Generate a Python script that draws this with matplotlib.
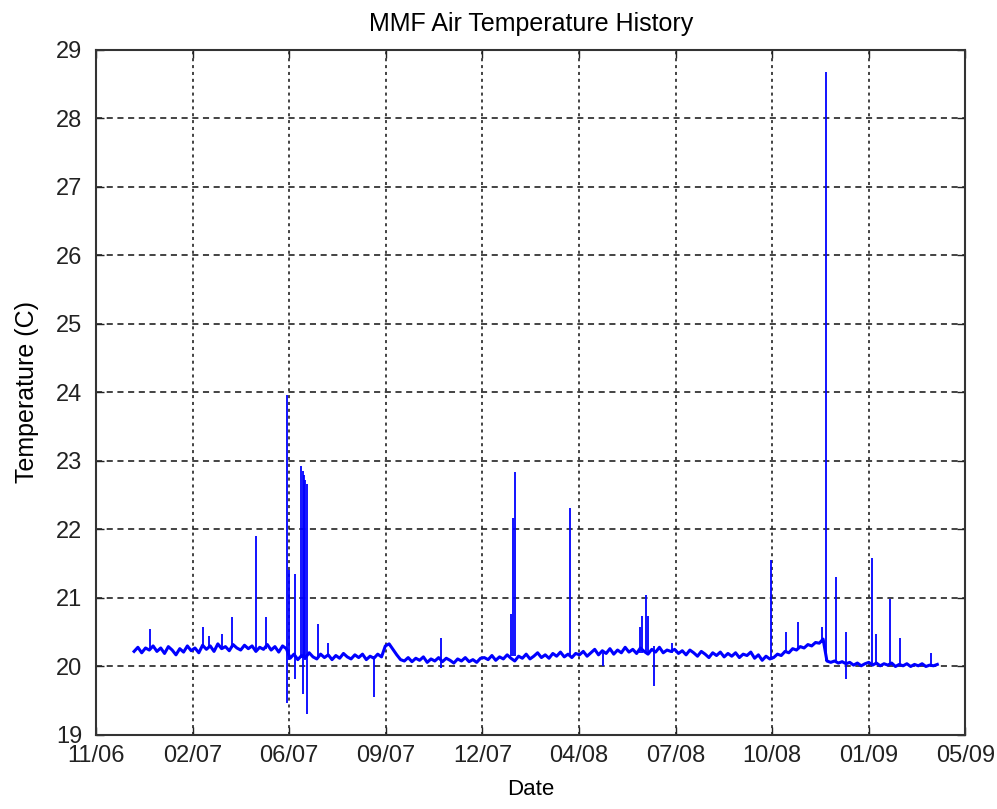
import matplotlib.pyplot as plt
import numpy as np

plt.rcParams['font.family'] = ['Liberation Sans', 'DejaVu Sans']

# x axis: days since first tick (11/06), ticks evenly spaced as in MATLAB datetick
tick_step = 101.5
tick_labels = ['11/06', '02/07', '06/07', '09/07', '12/07',
               '04/08', '07/08', '10/08', '01/09', '05/09']

# baseline readings, one every 4 days starting at day 40
base_start = 40
base_step = 4
base_temp = [
    20.22, 20.28, 20.2, 20.27, 20.24,
    20.3, 20.22, 20.27, 20.19, 20.29, 20.24, 20.17, 20.26, 20.21, 20.3, 20.23, 20.27, 20.2,
    20.31, 20.25, 20.3, 20.22, 20.33, 20.26, 20.29, 20.23, 20.32, 20.27, 20.24, 20.31,
    20.26, 20.3, 20.22, 20.28, 20.25, 20.32, 20.24, 20.29, 20.21, 20.3, 20.26,
    20.12, 20.18, 20.1, 20.16, 20.13, 20.2, 20.14, 20.11, 20.18, 20.13, 20.17, 20.1,
    20.16, 20.12, 20.19, 20.14, 20.11, 20.17, 20.13, 20.18, 20.1, 20.15, 20.12, 20.18, 20.14,
    20.3, 20.33, 20.25, 20.17, 20.1,
    20.08, 20.13, 20.07, 20.12, 20.09, 20.14, 20.06, 20.11, 20.08, 20.13, 20.07,
    20.12, 20.09, 20.05, 20.11, 20.08, 20.13, 20.07, 20.1, 20.06, 20.12,
    20.13, 20.1, 20.16, 20.09, 20.14, 20.11, 20.17, 20.12, 20.08, 20.15, 20.12, 20.18, 20.11,
    20.15, 20.2, 20.13, 20.17, 20.12, 20.19, 20.15, 20.21, 20.14, 20.18, 20.13, 20.19,
    20.17, 20.22, 20.15, 20.2, 20.25, 20.17, 20.23, 20.19, 20.26, 20.18, 20.24, 20.2, 20.28,
    20.21, 20.25, 20.19, 20.27, 20.22, 20.18, 20.25, 20.21, 20.28, 20.2, 20.24, 20.22,
    20.25, 20.19, 20.23, 20.17, 20.24, 20.2, 20.15, 20.22, 20.18, 20.13, 20.2, 20.16, 20.21,
    20.14, 20.19, 20.15, 20.2, 20.13, 20.18, 20.16, 20.21, 20.12, 20.17, 20.09, 20.15, 20.11,
    20.13, 20.18, 20.16, 20.22, 20.2, 20.26, 20.24, 20.29, 20.27, 20.32, 20.3, 20.35, 20.34, 20.4,
    20.08, 20.06, 20.08, 20.05, 20.07, 20.04, 20.06, 20.02, 20.05, 20.01, 20.04, 20.06,
    20.02, 20.05, 20.01, 20.04, 20.02, 20.05, 20.0, 20.03, 20.01, 20.04, 20.0, 20.03,
    20.01, 20.04, 20.0, 20.02, 20.01, 20.03,
]

# short excursions (spikes): day, low value, high value
spike_day = [56.6, 112.7, 118.7, 132.4, 142.9, 168.3, 178.8, 200.2, 203.0, 209.4,
             215.7, 217.0, 218.6, 220.0, 221.3, 233.6, 243.4, 292.6, 362.1, 436.2,
             438.0, 440.4, 497.6, 532.8, 571.4, 573.2, 577.4, 579.5, 586.1, 604.8,
             709.4, 724.9, 737.5, 762.8, 767.0, 777.5, 788.1, 815.5, 819.7, 834.8,
             845.3, 876.9]
spike_lo = [20.25, 20.27, 20.27, 20.25, 20.27, 20.25, 20.26, 19.46, 20.1, 19.82,
            20.12, 19.6, 20.12, 20.1, 19.31, 20.14, 20.14, 19.55, 19.98, 20.15,
            20.15, 20.15, 20.17, 20.0, 20.2, 20.2, 20.2, 20.2, 19.72, 20.2,
            20.12, 20.2, 20.25, 20.35, 20.08, 20.05, 19.82, 20.02, 20.02, 20.02,
            20.02, 20.02]
spike_hi = [20.54, 20.57, 20.45, 20.48, 20.72, 21.91, 20.72, 23.97, 21.41, 21.35,
            22.93, 22.85, 22.8, 22.72, 22.67, 20.62, 20.35, 20.15, 20.42, 20.77,
            22.17, 22.84, 22.31, 20.2, 20.58, 20.73, 21.05, 20.74, 20.3, 20.35,
            21.55, 20.5, 20.65, 20.58, 28.68, 21.31, 20.5, 21.58, 20.47, 20.99,
            20.42, 20.2]

base_day = base_start + base_step * np.arange(len(base_temp))

fig = plt.figure(figsize=(9.97, 8.09), dpi=100)
ax = fig.add_axes([0.0963, 0.0915, 0.872, 0.8467])

ax.plot(base_day, base_temp, color='#0000ff', linewidth=2.2)
ax.vlines(spike_day, spike_lo, spike_hi, color='#0000ff', linewidth=1.3)

ticks = tick_step * np.arange(len(tick_labels))
ax.set_xlim(ticks[0], ticks[-1])
ax.set_ylim(19, 29)
ax.set_xticks(ticks)
ax.set_xticklabels(tick_labels)
ax.set_yticks(np.arange(19, 30, 1))

ax.xaxis.grid(True, color='#111111', linestyle=(0, (2, 2.5)), linewidth=1.1)
ax.yaxis.grid(True, color='#111111', linestyle=(0, (4, 3)), linewidth=1.1)
ax.set_axisbelow(True)

ax.tick_params(direction='in', length=6, width=1, top=True, right=True,
               labelsize=17, colors='#222222')
ax.tick_params(axis='x', pad=7)
ax.tick_params(axis='y', pad=10)
for s in ax.spines.values():
    s.set_linewidth(1.5)
    s.set_color('#333333')

ax.set_title('MMF Air Temperature History', fontsize=18, pad=14)
ax.set_xlabel('Date', fontsize=16, labelpad=9)
ax.set_ylabel('Temperature (C)', fontsize=18, labelpad=12)

fig.savefig('out.png', dpi=100)
